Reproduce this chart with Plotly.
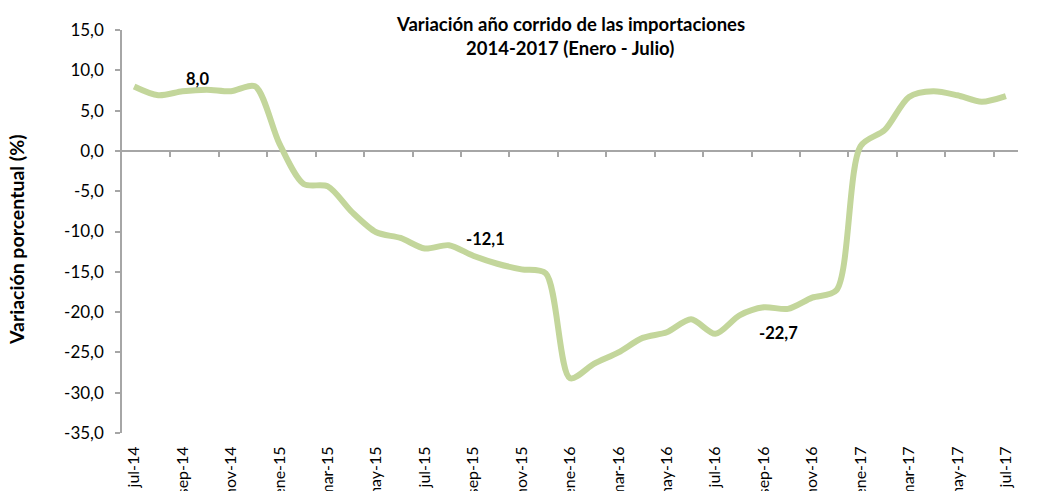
import plotly.graph_objects as go

months = ["jul-14", "ago-14", "sep-14", "oct-14", "nov-14", "dic-14",
          "ene-15", "feb-15", "mar-15", "abr-15", "may-15", "jun-15",
          "jul-15", "ago-15", "sep-15", "oct-15", "nov-15", "dic-15",
          "ene-16", "feb-16", "mar-16", "abr-16", "may-16", "jun-16",
          "jul-16", "ago-16", "sep-16", "oct-16", "nov-16", "dic-16",
          "ene-17", "feb-17", "mar-17", "abr-17", "may-17", "jun-17",
          "jul-17"]
values = [8.0, 6.9, 7.4, 7.6, 7.4, 8.0,
          0.9, -4.1, -4.4, -7.6, -10.1, -10.8,
          -12.1, -11.7, -13.0, -14.0, -14.7, -15.2,
          -28.2, -26.4, -25.0, -23.2, -22.5, -20.9,
          -22.7, -20.4, -19.4, -19.6, -18.2, -17.3,
          0.6, 2.6, 6.7, 7.4, 6.9, 6.1,
          6.8]
label_texts = ["8,0", "-12,1", "-22,7", "6,8"]
label_x = [2.6, 14.5, 26.6, 37.5]
label_y = [8.9, -10.9, -22.55, 8.1]
y_ticks = [15, 10, 5, 0, -5, -10, -15, -20, -25, -30, -35]

idx = list(range(len(months)))
y_ticktext = [f"{v:.1f}".replace(".", ",") for v in y_ticks]

FONT = "Lato, 'Open Sans', 'Liberation Sans', sans-serif"
GREY = "#a6a6a6"
xr = [-0.5, len(months) - 0.5]

fig = go.Figure()
# invisible helper on the bottom axis (labels)
fig.add_trace(go.Scatter(x=idx, y=values, mode="lines", line=dict(width=0),
                         opacity=0, hoverinfo="skip", showlegend=False,
                         xaxis="x", yaxis="y"))
# visible line on the zero-crossing axis
fig.add_trace(go.Scatter(x=idx, y=values, mode="lines",
                         line=dict(color="#c3d69b", width=6, shape="spline", smoothing=0.8),
                         showlegend=False, xaxis="x2", yaxis="y",
                         name="Variación año corrido"))

annotations = [
    dict(text="<b>" + t + "</b>", x=x, y=y, xref="x", yref="y", showarrow=False,
         xanchor="center", yanchor="middle",
         font=dict(family=FONT, size=16.5, color="#000000"))
    for t, x, y in zip(label_texts, label_x, label_y)
]
annotations += [
    dict(text="<b>Variación año corrido de las importaciones</b>", x=0.5, y=1 + 6 / 403,
         xref="paper", yref="paper", showarrow=False, xanchor="center", yanchor="middle",
         font=dict(family=FONT, size=18.5, color="#000000")),
    dict(text="<b>2014-2017 (Enero - Julio)</b>", x=0.5, y=1 - 18 / 403,
         xref="paper", yref="paper", showarrow=False, xanchor="center", yanchor="middle",
         font=dict(family=FONT, size=18.5, color="#000000")),
    dict(text="<b>Variación porcentual (%)</b>", x=(16 - 122) / 896, y=(433 - 240) / 403,
         xref="paper", yref="paper", showarrow=False, textangle=-90,
         xanchor="center", yanchor="middle",
         font=dict(family=FONT, size=19.5, color="#000000")),
]

fig.update_layout(
    width=1052, height=491,
    margin=dict(l=122, r=34, t=30, b=58, autoexpand=False),
    paper_bgcolor="white", plot_bgcolor="white",
    font=dict(family=FONT, size=15, color="#000000"),
    xaxis=dict(range=xr, tickmode="array", tickvals=idx[::2], ticktext=months[::2],
               tickangle=-90, showline=False, showgrid=False, zeroline=False,
               ticks="outside", ticklen=6, tickcolor="rgba(0,0,0,0)",
               tickfont=dict(family=FONT, size=16, color="#000000"), automargin=False),
    xaxis2=dict(range=xr, overlaying="x", anchor="free", position=0.7, side="bottom",
                showline=True, linecolor=GREY, linewidth=1.5, showgrid=False, zeroline=False,
                ticks="outside", ticklen=5, tickcolor=GREY, tickwidth=1.5,
                tickmode="array", tickvals=[i + 1.5 for i in idx[:-1:2]],
                showticklabels=False, layer="below traces"),
    yaxis=dict(range=[-35, 15], tickmode="array", tickvals=y_ticks, ticktext=y_ticktext,
               showline=True, linecolor=GREY, linewidth=1.5, showgrid=False, zeroline=False,
               ticks="outside", ticklen=5, tickcolor=GREY, tickwidth=1.5,
               ticklabelstandoff=8,
               tickfont=dict(family=FONT, size=17, color="#000000"), automargin=False),
    annotations=annotations,
)

fig.write_html("out.html", config={"displayModeBar": False},
               post_script="document.body.style.margin='0';")
